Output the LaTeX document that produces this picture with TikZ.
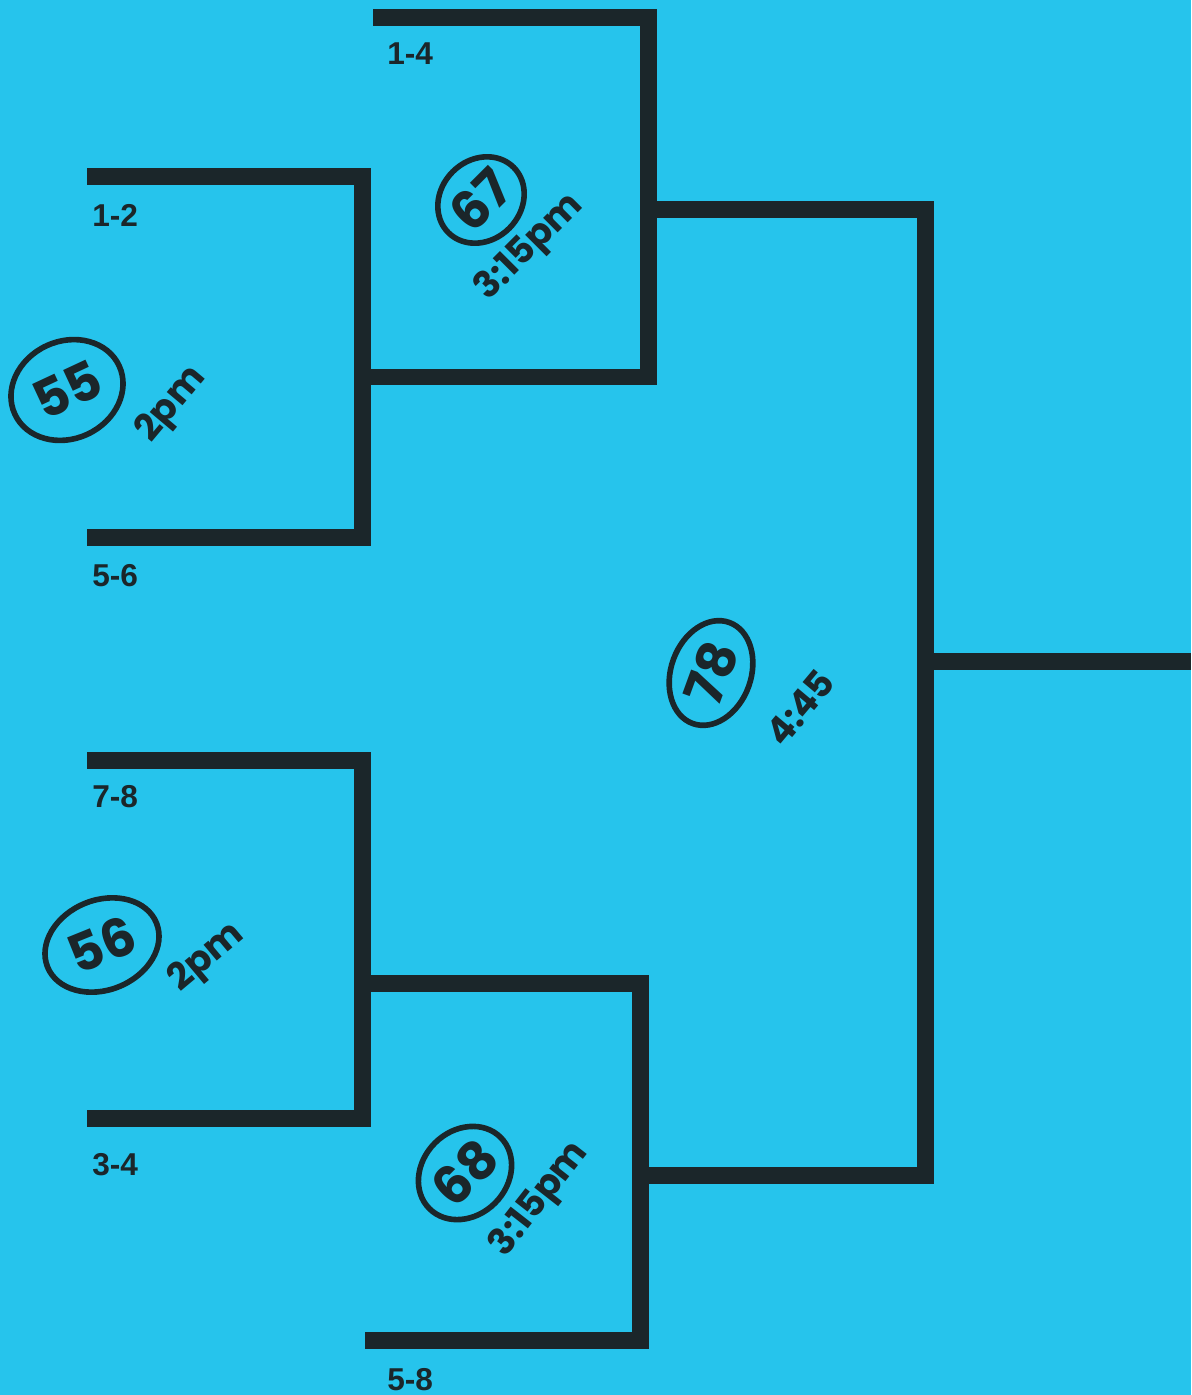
\documentclass[tikz,border=0pt]{standalone}
\usepackage{fontspec}
\setmainfont{Liberation Sans}
\newfontfamily\handfont{Poppins}
\usetikzlibrary{positioning,shapes.geometric,calc}

\definecolor{sheetblue}{RGB}{38,196,236}
\definecolor{inkdark}{RGB}{27,38,42}

\begin{document}
\begin{tikzpicture}[
  x=0.02cm, y=-0.02cm,
  bracket/.style={draw=inkdark, line width=0.34cm, line join=miter},
  seed/.style={anchor=west, inner sep=0pt, font=\bfseries\fontsize{18}{20}\selectfont, text=inkdark},
  gameno/.style={ellipse, draw=inkdark, line width=3.2pt, inner sep=1pt, minimum width=2.1cm, minimum height=1.8cm,
                 font=\handfont\bfseries\fontsize{30}{30}\selectfont, text=inkdark},
  gametime/.style={inner sep=0pt, font=\handfont\bfseries\fontsize{21}{21}\selectfont, text=inkdark}
]

% ---------- Sheet ----------
\fill[sheetblue] (0,0) rectangle (1191,1395);
\useasboundingbox (0,0) rectangle (1191,1395);

% ---------- Entry points and junctions ----------
\coordinate (r12) at (87,177);
\coordinate (r56) at (87,537);
\coordinate (r78) at (87,760);
\coordinate (r34) at (87,1118);
\coordinate (r14) at (373,18);
\coordinate (r58) at (365,1340);

\coordinate (m55) at (362,377);
\coordinate (m56) at (362,983);
\coordinate (m67) at (648,210);
\coordinate (m68) at (640,1175);
\coordinate (m78) at (925,661);
\coordinate (champ) at (1191,661);

% ---------- First round ----------
\draw[bracket] (r12) -| (m55) |- (r56);
\draw[bracket] (r78) -| (m56) |- (r34);

% ---------- Second round ----------
\draw[bracket] (r14) -| (m67) |- (m55);
\draw[bracket] (m56) -| (m68) |- (r58);

% ---------- Final ----------
\draw[bracket] (m67) -| (m78) |- (m68);
\draw[bracket] (m78) -- (champ);

% ---------- Seed labels ----------
\node[seed] (s12) at (92,215)  {1-2};
\node[seed] (s56) at (92,576)  {5-6};
\node[seed] (s14) at (387,54)  {1-4};
\node[seed] (s78) at (92,797)  {7-8};
\node[seed] (s34) at (92,1165) {3-4};
\node[seed] (s58) at (387,1380) {5-8};

% ---------- Game numbers and times ----------
\node[gameno, rotate=25, minimum width=2.3cm, minimum height=1.95cm] (g55) at (67,390) {55};
\node[gametime, rotate=50] (t55) at (172,405) {2pm};

\node[gameno, rotate=45, minimum width=1.75cm, minimum height=1.6cm] (g67) at (481,200) {67};
\node[gametime, rotate=45] (t67) at (530,248) {3:15pm};

\node[gameno, rotate=70, minimum width=2.15cm, minimum height=1.6cm] (g78) at (711,673) {78};
\node[gametime, rotate=50] (t78) at (800,708) {4:45};

\node[gameno, rotate=22, minimum width=2.35cm, minimum height=1.8cm] (g56) at (102,945) {56};
\node[gametime, rotate=40] (t56) at (207,958) {2pm};

\node[gameno, rotate=45, minimum width=1.8cm, minimum height=1.7cm] (g68) at (465,1173) {68};
\node[gametime, rotate=52] (t68) at (540,1200) {3:15pm};

\end{tikzpicture}
\end{document}
